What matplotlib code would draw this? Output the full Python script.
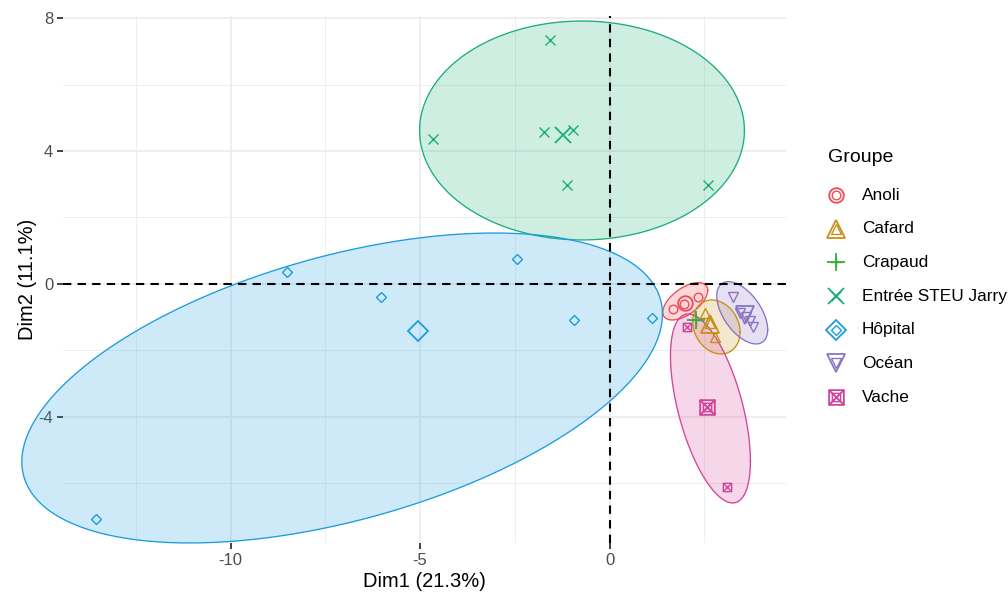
import numpy as np
import matplotlib

matplotlib.use("Agg")
import matplotlib.pyplot as plt
from matplotlib.lines import Line2D
from matplotlib.path import Path

plt.rcParams["font.family"] = ["Liberation Sans", "DejaVu Sans"]
plt.rcParams["axes.unicode_minus"] = False

GROUPS = ["Anoli", "Cafard", "Crapaud", "Entrée STEU Jarry", "Hôpital", "Océan", "Vache"]
COLORS = ["#F24A55", "#C8901A", "#3DAA3D", "#1BAF7A", "#1C9CDF", "#8B74C4", "#D2449A"]

# individual coordinates (Dim1, Dim2) per group
ANOLI_X = [1.689, 1.974, 2.330]
ANOLI_Y = [-0.761, -0.598, -0.382]
CAFARD_X = [2.533, 2.652, 2.778]
CAFARD_Y = [-0.881, -1.173, -1.585]
CRAPAUD_X = [2.296]
CRAPAUD_Y = [-1.083]
ENTREE_X = [-1.56, -4.67, -1.72, -0.96, -1.12, 2.59]
ENTREE_Y = [7.34, 4.36, 4.58, 4.63, 2.99, 2.99]
HOPITAL_X = [-13.56, -8.52, -6.04, -2.43, -0.95, 1.11]
HOPITAL_Y = [-7.07, 0.36, -0.39, 0.75, -1.08, -1.02]
OCEAN_X = [3.264, 3.456, 3.615, 3.702, 3.792]
OCEAN_Y = [-0.382, -0.872, -1.002, -1.104, -1.284]
VACHE_X = [2.040, 2.586, 3.106]
VACHE_Y = [-1.302, -3.708, -6.114]

# ellipse centre and covariance-like shape per group (None = no ellipse)
ELL_CX = [2.000, 2.823, None, -0.726, -7.058, 3.504, 2.665]
ELL_CY = [-0.520, -1.293, None, 4.617, -3.128, -0.866, -3.744]
ELL_SXX = [0.352, 0.391, None, 18.39, 71.51, 0.4525, 1.114]
ELL_SYY = [0.317, 0.659, None, 10.84, 21.73, 0.880, 8.077]
ELL_SXY = [0.194, -0.099, None, 0.0, 18.76, -0.341, -1.666]

square_cross = Path(
    [(-1, -1), (1, -1), (1, 1), (-1, 1), (-1, -1), (-1, -1), (1, 1), (-1, 1), (1, -1)],
    [Path.MOVETO, Path.LINETO, Path.LINETO, Path.LINETO, Path.CLOSEPOLY,
     Path.MOVETO, Path.LINETO, Path.MOVETO, Path.LINETO],
)
MARKERS = ["o", "^", "+", "x", "D", "v", square_cross]
SMALL = [6.2, 7.5, 8.0, 6.5, 5.5, 7.5, 6.0]
BIG = [10.5, 12.5, 12.5, 11.0, 10.2, 12.5, 10.6]

points_x = [ANOLI_X, CAFARD_X, CRAPAUD_X, ENTREE_X, HOPITAL_X, OCEAN_X, VACHE_X]
points_y = [ANOLI_Y, CAFARD_Y, CRAPAUD_Y, ENTREE_Y, HOPITAL_Y, OCEAN_Y, VACHE_Y]

fig = plt.figure(figsize=(10.08, 5.97), dpi=100)
ax = fig.add_axes([63 / 1008, 1 - 543 / 597, (786 - 63) / 1008, (543 - 16) / 597])

all_x = np.concatenate([np.array(v) for v in points_x])
all_y = np.concatenate([np.array(v) for v in points_y])
pad_x = 0.05 * (all_x.max() - all_x.min())
pad_y = 0.05 * (all_y.max() - all_y.min())
ax.set_xlim(all_x.min() - pad_x, all_x.max() + pad_x)
ax.set_ylim(all_y.min() - pad_y, all_y.max() + pad_y)

ax.set_xticks([-10, -5, 0])
ax.set_yticks([-4, 0, 4, 8])
ax.set_xticks([-12.5, -7.5, -2.5, 2.5], minor=True)
ax.set_yticks([-6, -2, 2, 6], minor=True)
ax.grid(which="major", color="#EBEBEB", lw=1.2, zorder=0)
ax.grid(which="minor", color="#EBEBEB", lw=0.6, zorder=0)
ax.set_axisbelow(True)
for s in ax.spines.values():
    s.set_visible(False)
ax.tick_params(which="major", length=4, width=1.3, color="#333333", labelsize=12,
               labelcolor="#4D4D4D", pad=3)
ax.tick_params(which="minor", length=0)

t = np.linspace(0, 2 * np.pi, 300)
for i, g in enumerate(GROUPS):
    if ELL_CX[i] is None:
        continue
    cov = np.array([[ELL_SXX[i], ELL_SXY[i]], [ELL_SXY[i], ELL_SYY[i]]])
    L = np.linalg.cholesky(cov)
    ring = L @ np.vstack([np.cos(t), np.sin(t)])
    ex = ELL_CX[i] + ring[0]
    ey = ELL_CY[i] + ring[1]
    ax.fill(ex, ey, color=COLORS[i], alpha=0.21, lw=0, clip_on=False, zorder=1)
    ax.plot(ex, ey, color=COLORS[i], lw=0.95, clip_on=False, zorder=1.5)

ax.axhline(0, color="black", lw=1.5, ls=(0, (4, 3)), zorder=2)
ax.axvline(0, color="black", lw=1.5, ls=(0, (4, 3)), zorder=2)

for i, g in enumerate(GROUPS):
    xs, ys = points_x[i], points_y[i]
    ax.plot(xs, ys, ls="none", marker=MARKERS[i], ms=SMALL[i], mec=COLORS[i],
            mfc="none", mew=1.0, zorder=3)
    ax.plot(np.mean(xs), np.mean(ys), ls="none", marker=MARKERS[i], ms=BIG[i],
            mec=COLORS[i], mfc="none", mew=1.3, zorder=3)

ax.set_xlabel("Dim1 (21.3%)", fontsize=14.5, labelpad=3)
ax.set_ylabel("Dim2 (11.1%)", fontsize=14.5, labelpad=1)

# legend drawn in figure coordinates
fig.text(828 / 1008, 1 - 157 / 597, "Groupe", fontsize=14, ha="left", va="center")
for i, g in enumerate(GROUPS):
    yy = 1 - (195 + i * 33.67) / 597
    for size, mew in ((SMALL[i], 1.0), (BIG[i], 1.3)):
        fig.add_artist(Line2D([836 / 1008], [yy], transform=fig.transFigure, ls="none",
                              marker=MARKERS[i], ms=size, mec=COLORS[i], mfc="none", mew=mew))
    fig.text(862 / 1008, yy, g, fontsize=12.4, ha="left", va="center")

fig.savefig("out.png", dpi=100)
